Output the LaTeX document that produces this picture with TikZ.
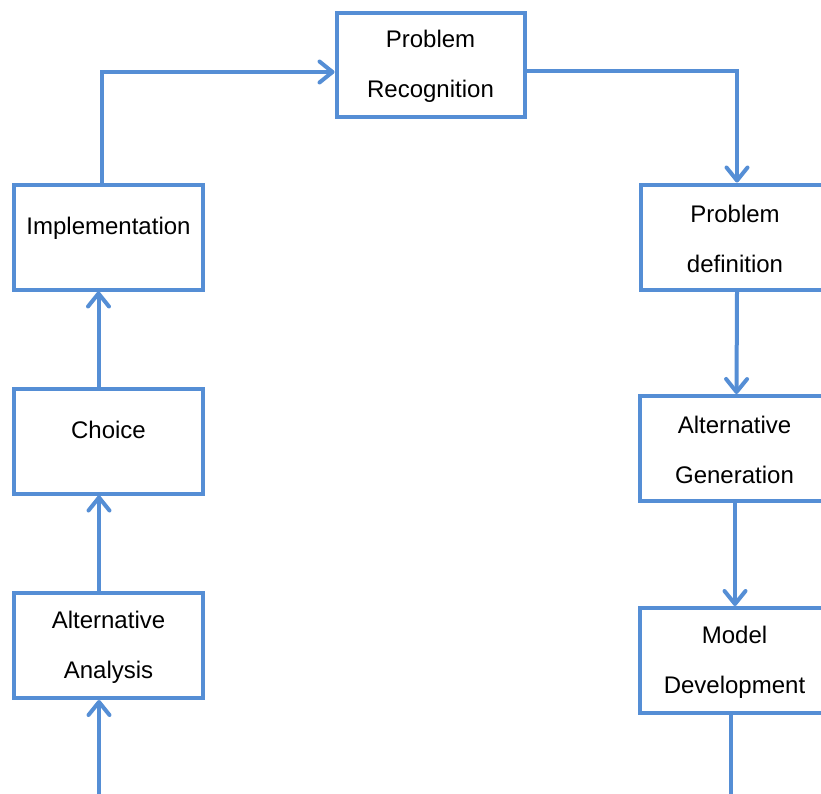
\documentclass[tikz,border=0pt]{standalone}
\usepackage{fontspec}
\setmainfont{Liberation Sans}
\usetikzlibrary{arrows.meta}
\definecolor{flowblue}{RGB}{85,142,213}
\tikzset{
  stagebox/.style={draw=flowblue, line width=4pt, fill=white, inner sep=0pt,
    minimum width=189pt, minimum height=105pt, align=center,
    font=\fontsize{24}{50}\selectfont},
  oneline/.style={text depth=22pt},
  twoline/.style={text height=71pt},
  flow/.style={draw=flowblue, line width=4pt,
    -{Straight Barb[length=13pt, width=21pt, line width=4pt, round]}}
}
\begin{document}
\begin{tikzpicture}[x=1pt, y=-1pt]
  \useasboundingbox (0,0) rectangle (821,793);
  \clip (0,0) rectangle (821,793);

  % process stages
  \node[stagebox, twoline, minimum width=188pt, minimum height=104pt] (rec) at (430.5,64.5) {Problem\\Recognition};
  \node[stagebox, twoline] (def) at (735,237) {Problem\\definition};
  \node[stagebox, twoline, minimum height=104.5pt] (gen) at (734.5,448.25) {Alternative\\Generation};
  \node[stagebox, twoline] (model) at (734.5,660.5) {Model\\Development};
  \node[stagebox, twoline] (analysis) at (108.5,645.5) {Alternative\\Analysis};
  \node[stagebox, oneline] (choice) at (108.5,441) {Choice};
  \node[stagebox, oneline] (impl) at (108.5,237) {Implementation};

  % cycle connectors
  \draw[flow] ([yshift=-6.5pt]rec.east) -| ([xshift=2pt]def.north);
  \draw[flow] ([xshift=2pt]def.south) -- ([xshift=2pt]gen.north);
  \draw[flow] ([xshift=0.5pt]gen.south) -- ([xshift=0.5pt]model.north);
  \draw[flow] ([xshift=-3.5pt]model.south) -- ++(0,83) -| ([xshift=-9.5pt]analysis.south);
  \draw[flow] ([xshift=-9.5pt]analysis.north) -- ([xshift=-9.5pt]choice.south);
  \draw[flow] ([xshift=-10pt]choice.north) -- ([xshift=-10pt]impl.south);
  \draw[flow] ([xshift=-7pt]impl.north) |- ([yshift=-7.5pt]rec.west);
\end{tikzpicture}
\end{document}
